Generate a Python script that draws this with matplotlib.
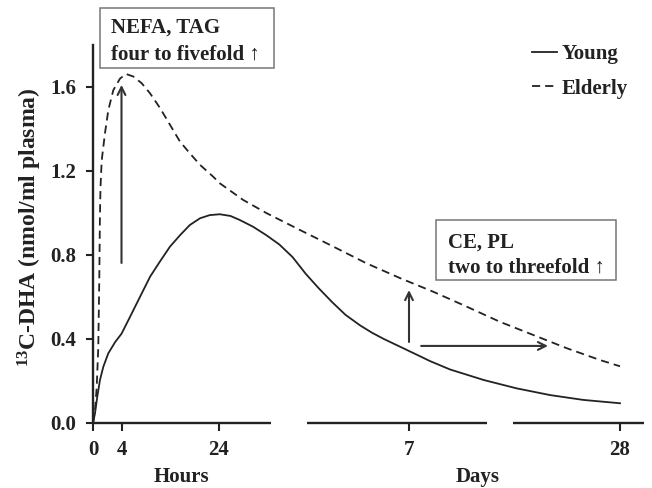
import numpy as np
import matplotlib
matplotlib.use('Agg')
import matplotlib.pyplot as plt
from matplotlib.patches import Rectangle

# ---- data (time in hours, 13C-DHA in nmol/ml plasma) ----
young_t = [0, 0.28, 0.6, 0.98, 1.45, 2.15, 3.1, 4.0, 5.75, 7.8, 9.9, 11.9, 14.0, 16.1, 18.1,
           20.2, 22.2, 25, 33, 40, 50, 60, 70, 80, 90, 100, 110, 120, 131, 140, 149, 164, 190,
           218, 266, 346, 425, 505, 584, 672]
young_v = [0, 0.046, 0.125, 0.205, 0.268, 0.332, 0.385, 0.425, 0.505, 0.60, 0.697, 0.768, 0.84,
           0.895, 0.943, 0.975, 0.99, 0.994, 0.986, 0.967, 0.935, 0.895, 0.85, 0.79, 0.71, 0.64,
           0.575, 0.515, 0.465, 0.43, 0.40, 0.355, 0.322, 0.295, 0.255, 0.205, 0.165, 0.133,
           0.11, 0.094]
elderly_t = [0, 0.28, 0.52, 0.74, 0.88, 0.97, 1.05, 1.22, 1.68, 2.15, 2.85, 3.79, 4.93, 6.43,
             8.16, 9.88, 11.94, 14.0, 16.06, 18.1, 20.2, 22.9, 25.1, 42.7, 60.4, 85.6, 110.8,
             136, 161.6, 226, 306, 385, 465, 545, 624, 672]
elderly_v = [0, 0.06, 0.17, 0.36, 0.68, 0.98, 1.12, 1.25, 1.38, 1.49, 1.585, 1.64, 1.662, 1.65,
             1.618, 1.57, 1.50, 1.42, 1.34, 1.284, 1.229, 1.173, 1.141, 1.062, 0.999, 0.919, 0.84,
             0.76, 0.689, 0.625, 0.554, 0.482, 0.419, 0.356, 0.30, 0.27]
series_labels = ['Young', 'Elderly']
tick_hours = [0, 4, 24, 168, 672]
tick_labels = ['0', '4', '24', '7', '28']
y_ticks = [0.0, 0.4, 0.8, 1.2, 1.6]
box1_lines = ['NEFA, TAG', 'four to fivefold \u2191']
box2_lines = ['CE, PL', 'two to threefold \u2191']

# ---- broken (piecewise linear) time scale ----
knot_t = np.array([-10, 0, 4, 24, 168, 672, 1000], dtype=float)
knot_p = np.array([-71.25, 0, 28.5, 125.5, 316, 527, 664.3])

def fwd(t):
    return np.interp(t, knot_t, knot_p)

def inv(p):
    return np.interp(p, knot_p, knot_t)

FONT = ['Liberation Serif', 'DejaVu Serif']
plt.rcParams['font.family'] = FONT
plt.rcParams['font.weight'] = 'bold'
plt.rcParams['axes.labelweight'] = 'bold'
plt.rcParams['font.size'] = 15
C = '#222222'

W, H = 652, 488
fig = plt.figure(figsize=(W / 100, H / 100), dpi=100)
ax = fig.add_axes([93 / W, 65 / H, 552 / W, 378 / H])
ax.set_xscale('function', functions=(fwd, inv))
ax.set_xlim(0, float(inv(552)))
ax.set_ylim(0, 1.8)

l1, = ax.plot(young_t, young_v, color=C, lw=1.3, solid_joinstyle='round')
l2, = ax.plot(elderly_t, elderly_v, color=C, lw=1.3, linestyle=(0, (4.5, 2.8)))

for s in ['top', 'right', 'bottom']:
    ax.spines[s].set_visible(False)
ax.spines['left'].set_linewidth(1.7)
ax.spines['left'].set_color(C)

# broken x-axis line segments (axes fraction)
for a, b in [(0, 0.3216), (0.3877, 0.7138), (0.760, 0.998)]:
    ax.plot([a, b], [0, 0], transform=ax.get_yaxis_transform(), color=C, lw=1.7,
            clip_on=False, solid_capstyle='butt')

ax.set_xticks(tick_hours, tick_labels)
ax.xaxis.set_minor_locator(matplotlib.ticker.NullLocator())
ax.set_yticks(y_ticks, [f'{v:.1f}' for v in y_ticks])
ax.tick_params(axis='x', direction='out', length=6, width=1.5, color=C, pad=6, labelcolor=C)
ax.tick_params(axis='y', direction='out', length=5, width=1.5, color=C, pad=7, labelcolor=C)

ax.set_ylabel(r'$\mathregular{^{13}}$C-DHA (nmol/ml plasma)', color=C, fontsize=17,
              fontweight='bold')
ax.yaxis.set_label_coords(-0.089, 0.517)
ax.text(0.161, -0.143, 'Hours', transform=ax.transAxes, ha='center', va='center', color=C)
ax.text(0.696, -0.143, 'Days', transform=ax.transAxes, ha='center', va='center', color=C)

leg = ax.legend([l1, l2], series_labels, loc='upper left', bbox_to_anchor=(532 / W, 1 - 44 / H),
                bbox_transform=fig.transFigure, frameon=False, borderpad=0, borderaxespad=0,
                handlelength=1.2, handletextpad=0.2, labelspacing=0.7)
for t in leg.get_texts():
    t.set_color(C)

# arrows
ap = dict(arrowstyle='->', lw=1.5, color='#333333', shrinkA=0, shrinkB=0, mutation_scale=14)
ax.annotate('', xy=(4, 1.61), xytext=(4, 0.762), arrowprops=ap)
ax.annotate('', xy=(168, 0.633), xytext=(168, 0.386), arrowprops=ap)
ax.annotate('', xy=(500, 0.367), xytext=(197, 0.367), arrowprops=ap)

# annotation boxes
def px(x):
    return x / W

def py(y):
    return 1 - y / H

fig.add_artist(Rectangle((px(100), py(68)), 174 / W, 60 / H, transform=fig.transFigure,
                         fill=False, ec='#777777', lw=1.1))
fig.text(px(111), py(33), box1_lines[0], va='baseline', ha='left', color=C)
fig.text(px(111), py(60), box1_lines[1], va='baseline', ha='left', color=C)
fig.add_artist(Rectangle((px(436), py(280)), 180 / W, 60 / H, transform=fig.transFigure,
                         fill=False, ec='#777777', lw=1.1))
fig.text(px(448), py(248), box2_lines[0], va='baseline', ha='left', color=C)
fig.text(px(448), py(273), box2_lines[1], va='baseline', ha='left', color=C)

fig.savefig('out.png', dpi=100)
